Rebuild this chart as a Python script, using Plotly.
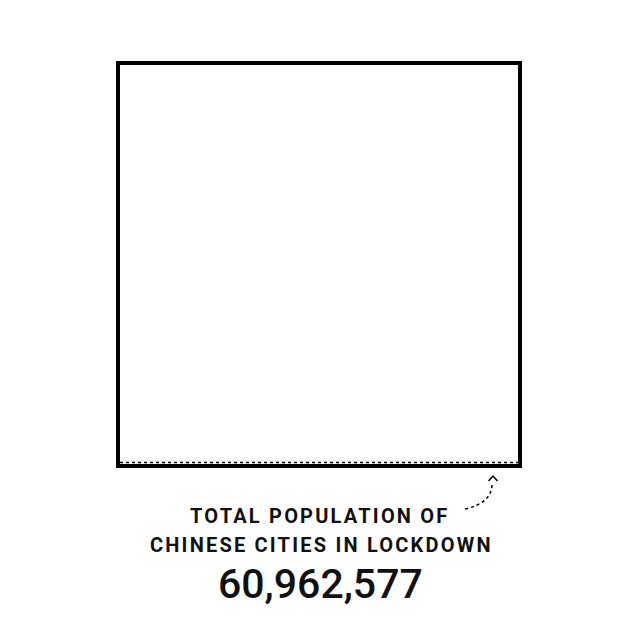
import math
import plotly.graph_objects as go

# ---- data ----
labels = ["TOTAL POPULATION OF", "CHINESE CITIES IN LOCKDOWN"]
population = [60962577]

side = math.sqrt(population[0])

W, H = 640, 632
PAD = 6  # px of padding around the square inside the plot area
L, R, T, B = 118 - PAD, 120 - PAD, 63 - PAD, 166 - PAD
pw, ph = W - L - R, H - T - B
# data units per pixel
ux = side / (pw - 2 * PAD)
uy = side / (ph - 2 * PAD)


def px(x):
    return (x - L) / pw


def py(y):
    return (H - B - y) / ph


fig = go.Figure()
fig.add_trace(go.Scatter(x=[0, side], y=[0, side], mode="markers",
                         marker=dict(opacity=0), hoverinfo="skip", showlegend=False))

# big square sized from the population value
fig.add_shape(type="rect", xref="x", yref="y", x0=0, y0=0, x1=side, y1=side,
              line=dict(color="black", width=4), fillcolor="rgba(0,0,0,0)")
# dotted inner bottom line
fig.add_shape(type="line", xref="paper", yref="paper", x0=px(120), x1=px(518),
              y0=py(462.5), y1=py(462.5), line=dict(color="black", width=1.5, dash="dot"))

# curved dotted arrow
path = "M {},{} Q {},{} {},{}".format(px(465), py(509), px(492), py(503), px(492), py(484))
fig.add_shape(type="path", xref="paper", yref="paper", path=path,
              line=dict(color="black", width=1.5, dash="dot"))
head = "M {},{} L {},{} L {},{}".format(px(488.5), py(481), px(493), py(476), px(497.5), py(481))
fig.add_shape(type="path", xref="paper", yref="paper", path=head,
              line=dict(color="black", width=1.5))

font_txt = dict(family="Roboto", size=20, color="#111111", weight=700)
SP = '<span style="letter-spacing:2.2px">{}</span>'
fig.add_annotation(x=px(319.5), y=py(516), xref="paper", yref="paper", text=SP.format(labels[0]),
                   showarrow=False, xanchor="center", yanchor="middle", font=font_txt)
fig.add_annotation(x=px(321), y=py(545), xref="paper", yref="paper", text=SP.format(labels[1]),
                   showarrow=False, xanchor="center", yanchor="middle", font=font_txt)
fig.add_annotation(x=px(320), y=py(584), xref="paper", yref="paper",
                   text=f"{population[0]:,}",
                   showarrow=False, xanchor="center", yanchor="middle",
                   font=dict(family="Roboto", size=41, color="#111111", weight=500))

fig.update_xaxes(range=[-PAD * ux, side + PAD * ux], visible=False, showgrid=False, zeroline=False)
fig.update_yaxes(range=[-PAD * uy, side + PAD * uy], visible=False, showgrid=False, zeroline=False)
fig.update_layout(width=W, height=H, margin=dict(l=L, r=R, t=T, b=B),
                  paper_bgcolor="white", plot_bgcolor="white", showlegend=False)

fig.write_html("out.html", config={"displayModeBar": False})
